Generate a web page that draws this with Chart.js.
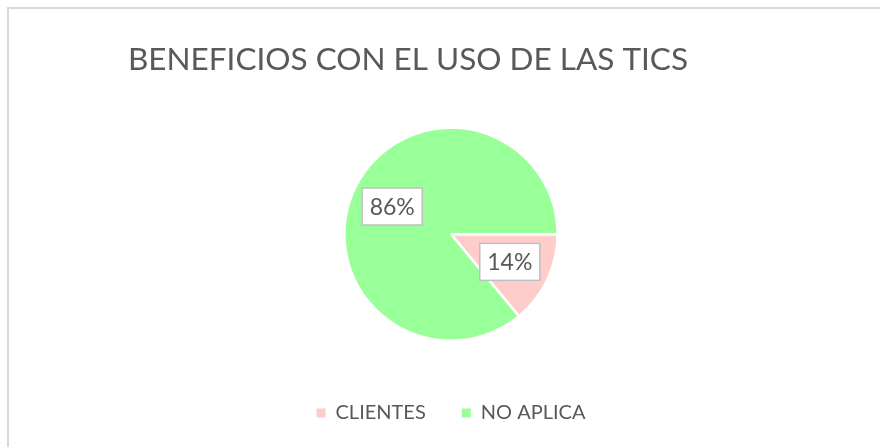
<!DOCTYPE html>
<html lang="es">
<head>
<meta charset="utf-8">
<title>Beneficios con el uso de las TICs</title>
<script src="https://cdn.jsdelivr.net/npm/chart.js@4"></script>
<style>
  html, body { margin: 0; padding: 0; background: #fff; }
  #marco { position: relative; width: 880px; height: 447px; overflow: hidden; }
  #borde { position: absolute; left: 7px; top: 7px; width: 900px; height: 460px;
           border-left: 2px solid #d9d9d9; border-top: 2px solid #d9d9d9; }
  #lienzo { position: absolute; left: 0; top: 0; width: 880px; height: 447px; }
</style>
</head>
<body>
<div id="marco">
  <div id="borde"></div>
  <div id="lienzo"><canvas id="graficoTics"></canvas></div>
</div>
<script>
// Datos
const categorias = ['CLIENTES', 'NO APLICA'];
const valores = [14, 86];
const colores = ['#ffcccc', '#99ff99'];
const titulo = 'BENEFICIOS CON EL USO DE LAS TICS';

const colorTexto = '#595959';
const fuente = 'Lato, "Open Sans", sans-serif';

// Etiquetas de porcentaje en cajitas blancas (como en Excel)
const etiquetasPlugin = {
  id: 'etiquetas',
  afterDatasetsDraw(chart) {
    const ctx = chart.ctx;
    const meta = chart.getDatasetMeta(0);
    const total = valores.reduce((a, b) => a + b, 0);
    meta.data.forEach((arc, i) => {
      const p = arc.getProps(['x', 'y', 'startAngle', 'endAngle', 'outerRadius'], true);
      const medio = (p.startAngle + p.endAngle) / 2;
      const r = p.outerRadius * 0.61;
      const cx = p.x + Math.cos(medio) * r;
      const cy = p.y + Math.sin(medio) * r;
      const texto = Math.round(valores[i] / total * 100) + '%';
      ctx.save();
      ctx.font = '23px ' + fuente;
      const w = ctx.measureText(texto).width + 15;
      const h = 37;
      ctx.fillStyle = '#ffffff';
      ctx.fillRect(cx - w / 2, cy - h / 2, w, h);
      ctx.strokeStyle = '#bfbfbf';
      ctx.lineWidth = 1.5;
      ctx.strokeRect(cx - w / 2, cy - h / 2, w, h);
      ctx.fillStyle = colorTexto;
      ctx.textAlign = 'center';
      ctx.textBaseline = 'middle';
      ctx.fillText(texto, cx, cy + 1);
      ctx.restore();
    });
  }
};

const grafico = new Chart(document.getElementById('graficoTics'), {
  type: 'pie',
  data: {
    labels: categorias,
    datasets: [{
      data: valores,
      backgroundColor: colores,
      borderColor: '#ffffff',
      borderWidth: 2.5
    }]
  },
  options: {
    responsive: true,
    maintainAspectRatio: false,
    animation: false,
    rotation: 90, // empieza a las 3 en punto, como el original
    layout: { padding: { left: 128, right: 106, top: 0, bottom: 14 } },
    plugins: {
      title: {
        display: true,
        text: titulo,
        align: 'start',
        color: colorTexto,
        font: { family: fuente, size: 31.5, weight: 'normal' },
        padding: { top: 41, bottom: 47.6 }
      },
      legend: {
        position: 'bottom',
        title: { display: true, text: ' ', font: { size: 1 }, padding: { top: 23.8, bottom: 0 } },
        labels: {
          color: colorTexto,
          font: { family: fuente, size: 20 },
          boxWidth: 9,
          boxHeight: 9,
          padding: 36,
          generateLabels(chart) {
            const items = Chart.overrides.pie.plugins.legend.labels.generateLabels(chart);
            items.forEach(it => { it.lineWidth = 0; it.strokeStyle = 'transparent'; });
            return items;
          }
        }
      },
      tooltip: { enabled: false }
    }
  },
  plugins: [etiquetasPlugin]
});
</script>
</body>
</html>
